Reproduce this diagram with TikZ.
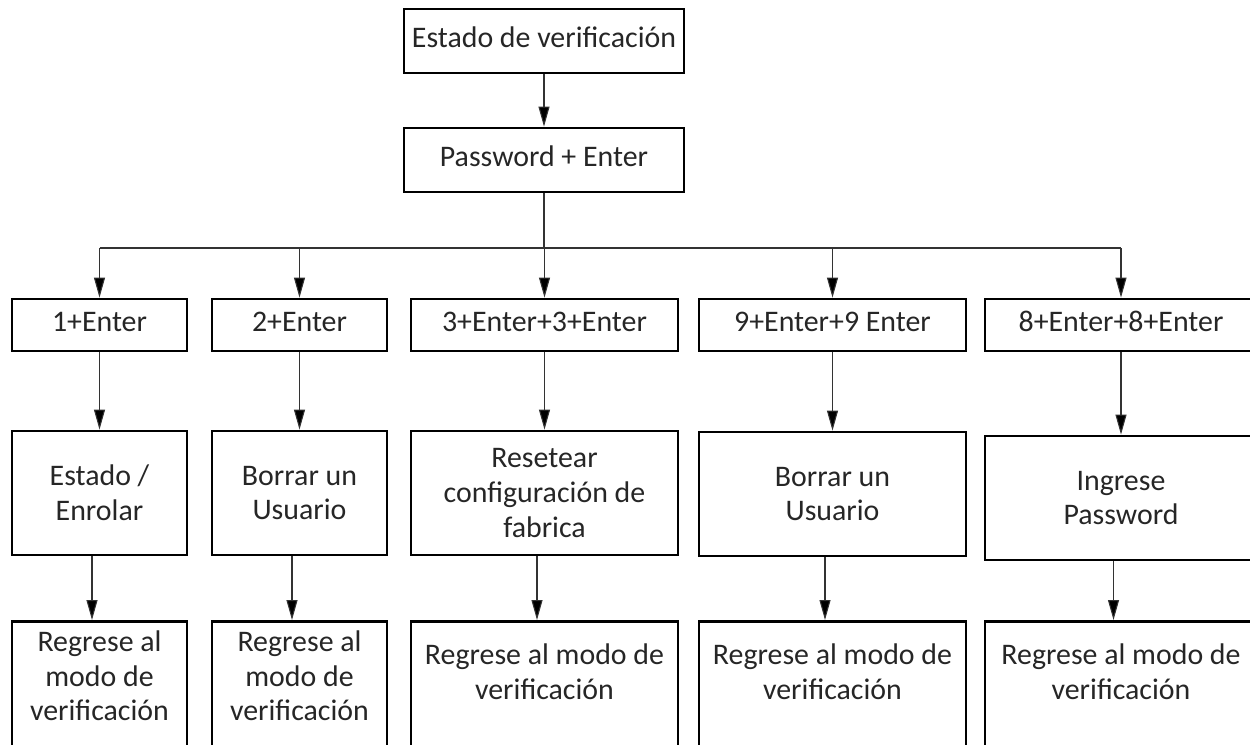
\documentclass[tikz,border=0pt]{standalone}
\usepackage{fontspec}
\setmainfont{Carlito}
\usetikzlibrary{arrows.meta}
\newcommand{\regtext}[3]{\parbox[c][2.8cm][t]{#1}{\centering\rule{0pt}{#2}#3}}

\begin{document}
\begin{tikzpicture}[x=0.02cm,y=-0.02cm,
        box/.style={draw,line width=1.6pt,align=center,inner sep=0pt,text=black!85,
            font=\fontsize{17}{19.8}\selectfont},
        oneline/.style={box,text height=0.3cm,text depth=0.06cm},
        wire/.style={line width=0.6pt,draw=black!80},
        arr/.style={wire,-{Triangle[length=0.4cm,width=0.22cm,fill=black]}}]
    \useasboundingbox (0,0) rectangle (1250,744);
    \clip (0,0) rectangle (1250,744);
    \node[oneline,minimum width=5.6cm,minimum height=1.28cm] (verif) at (544,41) {Estado de verificación};
    \node[oneline,minimum width=5.6cm,minimum height=1.28cm] (pass) at (544,160) {Password + Enter};
    \coordinate (bus) at (544,248);
    \node[oneline,minimum width=3.5cm,minimum height=1.04cm] (k1) at (99.5,325) {1+Enter};
    \node[oneline,minimum width=3.5cm,minimum height=1.04cm] (k2) at (299.5,325) {2+Enter};
    \node[oneline,minimum width=5.34cm,minimum height=1.04cm] (k3) at (544.5,325) {3+Enter+3+Enter};
    \node[oneline,minimum width=5.34cm,minimum height=1.04cm] (k4) at (832.5,325) {9+Enter+9 Enter};
    \node[oneline,minimum width=5.44cm,minimum height=1.04cm] (k5) at (1121,325) {8+Enter+8+Enter};
    \node[box,minimum width=3.5cm,minimum height=2.48cm] (m1) at (99.5,493) {Estado /\\Enrolar};
    \node[box,minimum width=3.5cm,minimum height=2.48cm] (m2) at (299.5,493) {Borrar un\\Usuario};
    \node[box,minimum width=5.34cm,minimum height=2.48cm] (m3) at (544.5,493) {Resetear\\configuración de\\fabrica};
    \node[box,minimum width=5.34cm,minimum height=2.48cm] (m4) at (832.5,494) {Borrar un\\Usuario};
    \node[box,minimum width=5.44cm,minimum height=2.48cm] (m5) at (1121,498) {Ingrese\\Password};
    \node[box,anchor=north] (r1) at (99.5,620) {\regtext{3.5cm}{0.6cm}{Regrese al\\modo de\\verificación}};
    \node[box,anchor=north] (r2) at (299.5,620) {\regtext{3.5cm}{0.6cm}{Regrese al\\modo de\\verificación}};
    \node[box,anchor=north] (r3) at (544.5,620) {\regtext{5.34cm}{0.86cm}{Regrese al modo de\\verificación}};
    \node[box,anchor=north] (r4) at (832.5,620) {\regtext{5.34cm}{0.86cm}{Regrese al modo de\\verificación}};
    \node[box,anchor=north] (r5) at (1121,620) {\regtext{5.44cm}{0.86cm}{Regrese al modo de\\verificación}};
    \draw[arr] (verif) -- (pass);
    \draw[wire] (pass) -- (bus);
    \draw[wire] (k1.north |- bus) -- (k5.north |- bus);
    \foreach \n in {1,...,5} {
        \draw[arr] (k\n.north |- bus) -- (k\n);
        \draw[arr] (k\n) -- (m\n);
        \draw[arr] ([xshift=-0.15cm]m\n.south) -- ([xshift=-0.15cm]r\n.north);
    }
\end{tikzpicture}
\end{document}
